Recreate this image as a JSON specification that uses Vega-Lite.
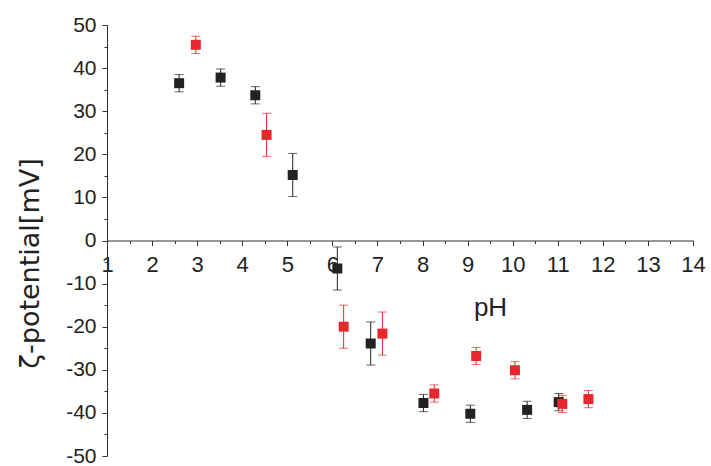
{
  "$schema": "https://vega.github.io/schema/vega-lite/v6.json",
  "width": 586,
  "height": 431,
  "autosize": "none",
  "padding": {"left": 107, "top": 25, "right": 18, "bottom": 10},
  "background": "white",
  "config": {
    "view": {"stroke": null},
    "font": "Liberation Sans",
    "axis": {"grid": false, "domainColor": "#333", "tickColor": "#333", "labelColor": "#222", "titleColor": "#222", "labelFont": "Liberation Sans", "titleFont": "Liberation Sans", "titleFontWeight": "normal"}
  },
  "data": {
    "values": [
      {"pH": 2.60, "zeta": 36.5, "err": 2.0, "series": "A"},
      {"pH": 3.52, "zeta": 37.8, "err": 2.0, "series": "A"},
      {"pH": 4.29, "zeta": 33.7, "err": 2.0, "series": "A"},
      {"pH": 5.12, "zeta": 15.2, "err": 5.0, "series": "A"},
      {"pH": 6.11, "zeta": -6.5, "err": 5.0, "series": "A"},
      {"pH": 6.85, "zeta": -23.9, "err": 5.0, "series": "A"},
      {"pH": 8.02, "zeta": -37.7, "err": 2.0, "series": "A"},
      {"pH": 9.06, "zeta": -40.2, "err": 2.0, "series": "A"},
      {"pH": 10.32, "zeta": -39.3, "err": 2.0, "series": "A"},
      {"pH": 11.02, "zeta": -37.5, "err": 2.0, "series": "A"},
      {"pH": 2.97, "zeta": 45.4, "err": 2.0, "series": "B"},
      {"pH": 4.54, "zeta": 24.5, "err": 5.0, "series": "B"},
      {"pH": 6.25, "zeta": -20.0, "err": 5.0, "series": "B"},
      {"pH": 7.11, "zeta": -21.6, "err": 5.0, "series": "B"},
      {"pH": 8.26, "zeta": -35.5, "err": 2.0, "series": "B"},
      {"pH": 9.19, "zeta": -26.8, "err": 2.0, "series": "B"},
      {"pH": 10.05, "zeta": -30.1, "err": 2.0, "series": "B"},
      {"pH": 11.10, "zeta": -37.9, "err": 2.0, "series": "B"},
      {"pH": 11.68, "zeta": -36.8, "err": 2.0, "series": "B"}
    ]
  },
  "layer": [
    {
      "mark": {"type": "errorbar", "ticks": {"size": 9}, "thickness": 1},
      "encoding": {
        "x": {"field": "pH", "type": "quantitative", "scale": {"domain": [1, 14], "nice": false},
          "axis": {"orient": "bottom", "offset": -215.5, "values": [1.5, 2.5, 3.5, 4.5, 5.5, 6.5, 7.5, 8.5, 9.5, 10.5, 11.5, 12.5, 13.5], "labels": false, "domain": false, "tickSize": 3, "title": null}},
        "y": {"field": "zeta", "type": "quantitative", "scale": {"domain": [-50, 50], "nice": false},
          "axis": {"orient": "left", "values": [-45, -35, -25, -15, -5, 5, 15, 25, 35, 45], "labels": false, "domain": false, "tickSize": 3, "title": null}},
        "yError": {"field": "err"},
        "color": {"field": "series", "type": "nominal", "scale": {"domain": ["A", "B"], "range": ["#222222", "#e8262b"]}, "legend": null}
      }
    },
    {
      "mark": {"type": "point", "shape": "square", "filled": true, "size": 100, "opacity": 1},
      "encoding": {
        "x": {"field": "pH", "type": "quantitative",
          "axis": {"orient": "bottom", "offset": -215.5, "values": [1, 2, 3, 4, 5, 6, 7, 8, 9, 10, 11, 12, 13, 14], "tickSize": 5, "labelFontSize": 22, "labelPadding": 9, "labelFlush": false, "labelOverlap": false,
            "title": "pH", "titleFontSize": 26, "titleX": 383, "titleY": 75, "titleBaseline": "alphabetic", "titleAnchor": null, "titleAlign": "center"}},
        "y": {"field": "zeta", "type": "quantitative",
          "axis": {"orient": "left", "values": [-50, -40, -30, -20, -10, 0, 10, 20, 30, 40, 50], "tickSize": 5, "labelFontSize": 21, "labelPadding": 6, "labelFlush": false, "labelOverlap": false,
            "labelExpr": "toString(datum.value)",
            "title": "ζ-potential[mV]", "titleFont": "DejaVu Sans", "titleFontSize": 27, "titleAngle": -90, "titleX": -77, "titleY": 238, "titleAlign": "center", "titleBaseline": "middle"}},
        "color": {"field": "series", "type": "nominal", "legend": null}
      }
    }
  ],
  "resolve": {"axis": {"x": "independent", "y": "independent"}}
}
